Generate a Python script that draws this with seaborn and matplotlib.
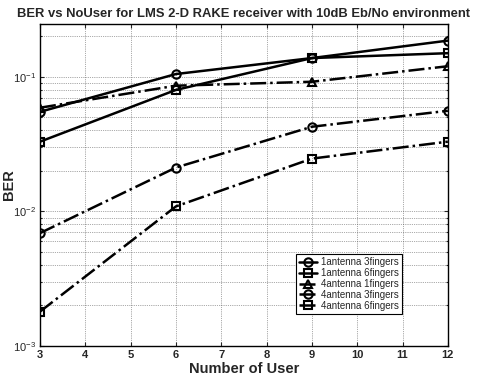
import matplotlib
matplotlib.use("Agg")
import matplotlib.pyplot as plt
import seaborn as sns
import pandas as pd
import numpy as np

users = [3, 6, 9, 12]
series_names = ["1antenna 3fingers", "1antenna 6fingers", "4antenna 1fingers",
                "4antenna 3fingers", "4antenna 6fingers"]
ber_1a_3f = [0.055, 0.105, 0.138, 0.186]
ber_1a_6f = [0.033, 0.080, 0.138, 0.150]
ber_4a_1f = [0.059, 0.086, 0.092, 0.120]
ber_4a_3f = [0.0069, 0.0212, 0.0426, 0.056]
ber_4a_6f = [0.0018, 0.0109, 0.0247, 0.033]
x_ticks = [3, 4, 5, 6, 7, 8, 9, 10, 11, 12]

sns.set_theme(style="white")
plt.rcParams['font.family'] = ['Liberation Sans', 'DejaVu Sans']
plt.rcParams['mathtext.fontset'] = 'custom'
plt.rcParams['mathtext.rm'] = 'Liberation Sans'
plt.rcParams['mathtext.it'] = 'Liberation Sans'
plt.rcParams['mathtext.bf'] = 'Liberation Sans:bold'

fig = plt.figure(figsize=(4.79, 3.78), dpi=100)
ax = fig.add_axes([0.0835, 0.0847, 0.8515, 0.8518])

all_vals = [ber_1a_3f, ber_1a_6f, ber_4a_1f, ber_4a_3f, ber_4a_6f]
markers = ['o', 's', '^', 'o', 's']
styles = ['-', '-', '-.', '-.', '-.']
for name, vals, m, ls in zip(series_names, all_vals, markers, styles):
    df = pd.DataFrame({"users": users, "ber": vals})
    sns.lineplot(data=df, x="users", y="ber", ax=ax, color='black', marker=m,
                 linestyle=ls, linewidth=1.8, markersize=6,
                 markerfacecolor='none', markeredgecolor='black',
                 markeredgewidth=1.5, label=name)

ax.set_yscale('log')
ax.set_xlim(3, 12)
ax.set_ylim(1e-3, 10**-0.607)
ax.set_xticks(x_ticks)
ax.set_xticklabels([str(t) for t in x_ticks], fontsize=8, fontweight='bold')
ax.set_yticks([1e-3, 1e-2, 1e-1])
ax.set_yticklabels([r'$10^{-3}$', r'$10^{-2}$', r'$10^{-1}$'], fontsize=8)
ax.tick_params(axis='both', which='both', direction='in', length=3, width=0.8,
               top=True, right=True, bottom=True, left=True, pad=3)
ax.tick_params(axis='y', which='minor', length=1.5)
ax.grid(True, which='major', axis='x', linestyle=':', color='0.35', linewidth=0.5)
ax.grid(True, which='both', axis='y', linestyle=':', color='0.35', linewidth=0.5)
for s in ax.spines.values():
    s.set_color('black')
    s.set_linewidth(1.0)

ax.set_xlabel("Number of User", fontsize=10.5, fontweight='bold', labelpad=1)
ax.set_ylabel("BER", fontsize=10.5, fontweight='bold')
ax.yaxis.set_label_coords(-0.058, 0.5)
ax.set_title("BER vs NoUser for LMS 2-D RAKE receiver with 10dB Eb/No environment",
             fontsize=9.4, fontweight='bold', pad=5)

leg = ax.legend(loc='lower left', bbox_to_anchor=(0.628, 0.10), fontsize=7,
                frameon=True, fancybox=False, edgecolor='black', framealpha=1,
                handlelength=1.8, handletextpad=0.5, borderpad=0.3,
                labelspacing=0.1, borderaxespad=0)
leg.get_frame().set_linewidth(0.8)

fig.savefig("out.png", dpi=100)
